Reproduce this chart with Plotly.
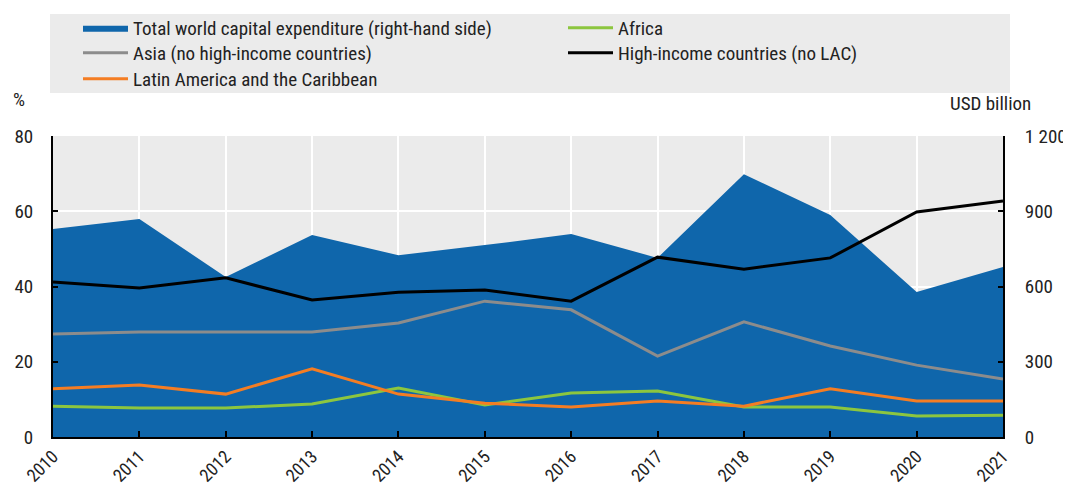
import plotly.graph_objects as go

# Data
years = list(range(2010, 2022))
capex_total = [829, 869, 638, 805, 725, 765, 809, 714, 1048, 885, 578, 678]  # USD billion (rhs)
africa = [8.2, 7.7, 7.7, 8.8, 13.0, 8.5, 11.7, 12.2, 8.0, 8.0, 5.6, 5.8]
asia = [27.4, 27.9, 27.9, 27.9, 30.3, 36.1, 33.8, 21.5, 30.6, 24.2, 19.1, 15.4]
high_income = [41.2, 39.6, 42.3, 36.4, 38.5, 39.1, 36.1, 47.8, 44.6, 47.6, 59.8, 62.7]
lac = [12.8, 13.8, 11.4, 18.1, 11.4, 9.0, 8.0, 9.6, 8.2, 12.8, 9.6, 9.6]

left_ticks = [0, 20, 40, 60, 80]
right_ticks = [0, 300, 600, 900, 1200]
right_ticktext = ["0", "300", "600", "900", "1 200"]

FONT = "Liberation Sans Narrow, Arial Narrow, Roboto Condensed, Liberation Sans, sans-serif"
BLUE = "#0f66ab"
GREEN = "#8cc63f"
ORANGE = "#f47d23"
GREY = "#8c8c8c"

# the page body adds an 8px margin, so the figure is laid out 8px smaller
W, H = 1063, 478
L, R, T, B = 45, 68, 128, 49
PW, PH = W - L - R, H - T - B


def px(x):
    return (x - L) / PW


def py(y):
    return (H - B - y) / PH


fig = go.Figure()

# area on the main (right-hand) axis so lines on the overlay sit on top
fig.add_trace(go.Scatter(
    x=years, y=capex_total, name="Total world capital expenditure (right-hand side)",
    mode="lines", line=dict(width=0, color=BLUE), fill="tozeroy", fillcolor=BLUE,
    yaxis="y", legend="legend",
))
fig.add_trace(go.Scatter(x=years, y=africa, name="Africa", mode="lines",
                         line=dict(color=GREEN, width=3), yaxis="y2", legend="legend2"))
fig.add_trace(go.Scatter(x=years, y=asia, name="Asia (no high-income countries)", mode="lines",
                         line=dict(color=GREY, width=3), yaxis="y2", legend="legend3"))
fig.add_trace(go.Scatter(x=years, y=high_income, name="High-income countries (no LAC)", mode="lines",
                         line=dict(color="black", width=3), yaxis="y2", legend="legend4"))
fig.add_trace(go.Scatter(x=years, y=lac, name="Latin America and the Caribbean", mode="lines",
                         line=dict(color=ORANGE, width=3), yaxis="y2", legend="legend5"))

# one legend per entry, laid out as two columns like the reference
legend_style = dict(
    orientation="v", xref="container", yref="container", xanchor="left",
    yanchor="top", bgcolor="rgba(0,0,0,0)", font=dict(size=19),
    traceorder="normal", itemclick=False, itemwidth=45,
)
col1, col2 = 70 / W, 555 / W
rows = [1 - 1 / H, 1 - 26 / H, 1 - 52 / H]

fig.update_layout(
    width=W, height=H,
    margin=dict(l=L, r=R, t=T, b=B, autoexpand=False),
    paper_bgcolor="white",
    plot_bgcolor="#ebebeb",
    font=dict(family=FONT, size=19, color="#222222"),
    showlegend=True,
    legend=dict(legend_style, x=col1, y=rows[0]),
    legend2=dict(legend_style, x=col2, y=rows[0]),
    legend3=dict(legend_style, x=col1, y=rows[1]),
    legend4=dict(legend_style, x=col2, y=rows[1]),
    legend5=dict(legend_style, x=col1, y=rows[2]),
    xaxis=dict(
        range=[2010, 2021], tickvals=years, ticktext=[str(y) for y in years],
        tickangle=-45, tickfont=dict(size=18), showgrid=True, gridcolor="white", gridwidth=2,
        showline=True, linecolor="black", linewidth=2,
        ticks="inside", ticklen=6, tickcolor="black", tickwidth=2,
        zeroline=False,
    ),
    yaxis=dict(
        side="right", range=[0, 1200], tickvals=right_ticks, ticktext=right_ticktext,
        showgrid=False, showline=True, linecolor="black", linewidth=2,
        ticks="inside", ticklen=5, tickcolor="black", tickwidth=2,
        ticklabelstandoff=16, zeroline=False,
    ),
    yaxis2=dict(
        side="left", overlaying="y", range=[0, 80], tickvals=left_ticks,
        showgrid=True, gridcolor="white", gridwidth=2,
        showline=True, linecolor="black", linewidth=2,
        ticks="inside", ticklen=5, tickcolor="black", tickwidth=2,
        ticklabelstandoff=14, zeroline=False,
    ),
    shapes=[dict(
        type="rect", xref="paper", yref="paper", layer="below",
        x0=px(42), x1=px(1002), y0=py(85), y1=py(6),
        fillcolor="#ebebeb", line=dict(width=0),
    )],
    annotations=[
        dict(text="%", xref="paper", yref="paper", x=px(3), y=py(78),
             xanchor="left", yanchor="top", showarrow=False, font=dict(size=19)),
        dict(text="USD billion", xref="paper", yref="paper", x=px(1025), y=py(82),
             xanchor="right", yanchor="top", showarrow=False, font=dict(size=19)),
    ],
)

fig.write_html("out.html")
